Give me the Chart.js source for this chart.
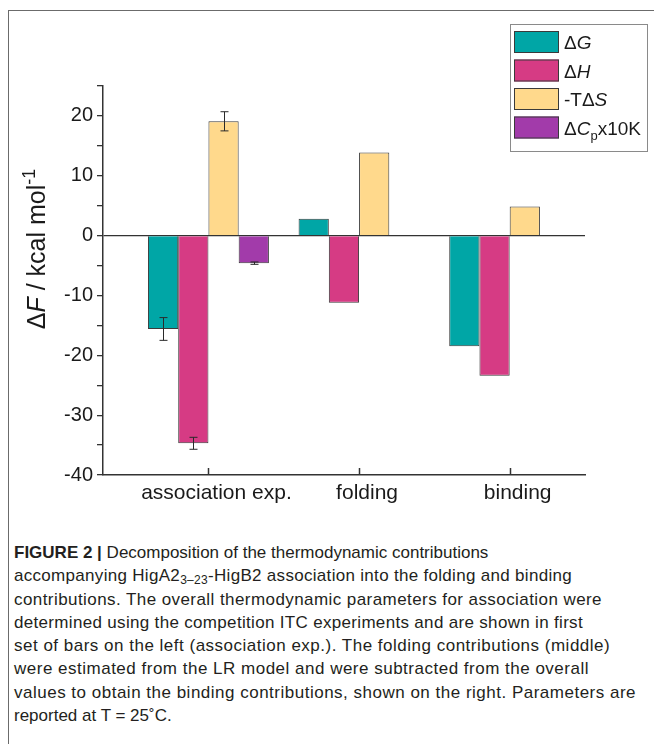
<!DOCTYPE html>
<html>
<head>
<meta charset="utf-8">
<script src="https://cdn.jsdelivr.net/npm/chart.js@4/dist/chart.umd.min.js"></script>
<style>
html,body{margin:0;padding:0;background:#fff;}
body{width:654px;height:744px;position:relative;overflow:hidden;font-family:"Liberation Sans",Arial,sans-serif;}
#frame{position:absolute;left:8px;top:10px;width:646px;height:734px;border-top:1.5px solid #6b6b6b;border-left:1.5px solid #6b6b6b;box-sizing:border-box;}
#wrap{position:absolute;left:0;top:0;width:654px;height:540px;}
#caption{position:absolute;left:14px;top:541px;width:640px;font-size:17px;line-height:23.3px;color:#231f20;}
.ln{white-space:nowrap;display:block;}
.ln span.t{display:inline-block;white-space:nowrap;}
sub{font-size:12px;line-height:0;vertical-align:-3px;}
</style>
</head>
<body>
<div id="frame"></div>
<div id="wrap"><canvas id="c" width="654" height="540"></canvas></div>
<div id="caption">
<div class="ln"><span class="t"><b>FIGURE 2 |</b> Decomposition of the thermodynamic contributions</span></div>
<div class="ln"><span class="t" data-end="572">accompanying HigA2<sub>3–23</sub>-HigB2 association into the folding and binding</span></div>
<div class="ln"><span class="t" data-end="602">contributions. The overall thermodynamic parameters for association were</span></div>
<div class="ln"><span class="t" data-end="583">determined using the competition ITC experiments and are shown in first</span></div>
<div class="ln"><span class="t" data-end="624">set of bars on the left (association exp.). The folding contributions (middle)</span></div>
<div class="ln"><span class="t" data-end="603">were estimated from the LR model and were subtracted from the overall</span></div>
<div class="ln"><span class="t" data-end="641">values to obtain the binding contributions, shown on the right. Parameters are</span></div>
<div class="ln"><span class="t">reported at T = 25˚C.</span></div>
</div>
<script>
// ---- data ----
const categories = ['association exp.', 'folding', 'binding'];
const categoryPositions = [1, 2, 3];
const seriesLabels = ['ΔG', 'ΔH', '-TΔS', 'ΔCpx10K'];
const dG   = [-15.6, 2.8, -18.5];
const dH   = [-34.7, -11.2, -23.4];
const mTdS = [19.1, 13.9, 4.85];
const dCp  = [-4.6, null, null];
const dGErr   = [1.9, null, null];
const dHErr   = [1.0, null, null];
const mTdSErr = [1.6, null, null];
const dCpErr  = [0.2, null, null];
const yMin = -40, yMax = 25, yStep = 5;
const xMin = 0.3, xMax = 3.5;

const colors = ['#00a6a6', '#d63b84', '#ffd98c', '#a23baa'];
const seriesValues = [dG, dH, mTdS, dCp];
const seriesErrors = [dGErr, dHErr, mTdSErr, dCpErr];

const FONT = '"Liberation Sans", Arial, sans-serif';

const datasets = seriesLabels.map((lab, i) => ({
  label: lab,
  data: categoryPositions.map((x, j) => ({x: x, y: seriesValues[i][j]})),
  errors: seriesErrors[i],
  backgroundColor: colors[i],
  borderColor: '#3a3a3a',
  borderWidth: 1,
  categoryPercentage: 0.803,
  barPercentage: 1
}));

function richParts(label) {
  const parts = [];
  for (let k = 0; k < label.length; k++) {
    const ch = label[k];
    if ('GHSC'.includes(ch)) parts.push({t: ch, style: 'italic'});
    else if (ch === 'p' && label[k - 1] === 'C') parts.push({t: ch, style: 'sub'});
    else parts.push({t: ch, style: 'normal'});
  }
  return parts;
}

function drawRich(ctx, parts, x, y, size) {
  let cx = x;
  for (const p of parts) {
    if (p.style === 'sub') {
      ctx.font = `${Math.round(size * 0.7)}px ${FONT}`;
      ctx.fillText(p.t, cx, y + size * 0.3);
    } else if (p.style === 'sup') {
      ctx.font = `${Math.round(size * 0.7)}px ${FONT}`;
      ctx.fillText(p.t, cx, y - size * 0.42);
    } else {
      ctx.font = `${p.style === 'italic' ? 'italic ' : ''}${size}px ${FONT}`;
      ctx.fillText(p.t, cx, y);
    }
    cx += ctx.measureText(p.t).width;
  }
  return cx - x;
}
function measureRich(ctx, parts, size) {
  let w = 0;
  for (const p of parts) {
    if (p.style === 'sub' || p.style === 'sup') ctx.font = `${Math.round(size * 0.7)}px ${FONT}`;
    else ctx.font = `${p.style === 'italic' ? 'italic ' : ''}${size}px ${FONT}`;
    w += ctx.measureText(p.t).width;
  }
  return w;
}

const errorBars = {
  id: 'errorBars',
  afterDatasetsDraw(chart) {
    const ctx = chart.ctx, ys = chart.scales.y;
    ctx.save();
    ctx.strokeStyle = '#2a2a2a';
    ctx.lineWidth = 1;
    chart.data.datasets.forEach((ds, i) => {
      const meta = chart.getDatasetMeta(i);
      ds.errors.forEach((e, j) => {
        const v = ds.data[j].y;
        if (e == null || v == null) return;
        const bar = meta.data[j];
        const x = Math.round(bar.x) + 0.5;
        const t = ys.getPixelForValue(v + e), b = ys.getPixelForValue(v - e);
        ctx.beginPath();
        ctx.moveTo(x, t); ctx.lineTo(x, b);
        ctx.moveTo(x - 4, t); ctx.lineTo(x + 4, t);
        ctx.moveTo(x - 4, b); ctx.lineTo(x + 4, b);
        ctx.stroke();
      });
    });
    ctx.restore();
  }
};

const extras = {
  id: 'extras',
  afterDraw(chart) {
    const ctx = chart.ctx, xs = chart.scales.x, area = chart.chartArea;
    ctx.save();
    // inward x ticks
    ctx.strokeStyle = '#333';
    ctx.lineWidth = 1.5;
    categoryPositions.forEach(v => {
      const x = Math.round(xs.getPixelForValue(v)) + 0.5;
      ctx.beginPath(); ctx.moveTo(x, area.bottom); ctx.lineTo(x, area.bottom - 7); ctx.stroke();
    });
    // y-axis title
    ctx.fillStyle = '#1a1a1a';
    ctx.textBaseline = 'alphabetic';
    const size = 25;
    const tParts = [{t:'Δ',style:'normal'},{t:'F',style:'italic'},{t:' / kcal mol',style:'normal'},{t:'-1',style:'sup'}];
    const w = measureRich(ctx, tParts, size);
    ctx.translate(45, 249);
    ctx.rotate(-Math.PI / 2);
    drawRich(ctx, tParts, -w / 2, 0, size);
    ctx.setTransform(1, 0, 0, 1, 0, 0);
    // legend
    const lx = 510.5, ly = 24.5, lw = 137, lh = 127;
    ctx.strokeStyle = '#8a8a8a';
    ctx.lineWidth = 1;
    ctx.strokeRect(lx, ly, lw, lh);
    chart.data.datasets.forEach((ds, i) => {
      const ry = 31 + i * 28.5;
      ctx.fillStyle = ds.backgroundColor;
      ctx.fillRect(514, ry, 45, 22);
      ctx.strokeStyle = '#3a3a3a';
      ctx.strokeRect(514.5, ry + 0.5, 44, 21);
      ctx.fillStyle = '#1a1a1a';
      drawRich(ctx, richParts(ds.label), 564, ry + 18, 19);
    });
    ctx.restore();
  }
};

new Chart(document.getElementById('c'), {
  type: 'bar',
  data: { datasets },
  options: {
    responsive: false,
    animation: false,
    devicePixelRatio: 1,
    layout: { padding: { left: 0, top: 86, right: 69, bottom: 0 } },
    plugins: { legend: { display: false }, tooltip: { enabled: false }, title: { display: false } },
    scales: {
      x: {
        type: 'linear',
        offset: false,
        min: xMin, max: xMax,
        afterBuildTicks: s => { s.ticks = categoryPositions.map(v => ({ value: v })); },
        afterFit: s => { s.height = 65; },
        grid: { offset: false, drawOnChartArea: false, drawTicks: false },
        border: { display: true, color: '#333', width: 1.5 },
        ticks: {
          padding: 6,
          labelOffset: 8,
          color: '#1a1a1a',
          font: { family: FONT, size: 21 },
          maxRotation: 0, autoSkip: false,
          callback: v => { const k = categoryPositions.indexOf(v); return k >= 0 ? categories[k] : ''; }
        }
      },
      y: {
        min: yMin, max: yMax,
        afterFit: s => { s.width = 103; },
        grid: {
          drawOnChartArea: true,
          color: c => (c.tick && c.tick.value === 0 ? '#333' : 'rgba(0,0,0,0)'),
          lineWidth: 1.3,
          tickColor: '#333',
          tickLength: 6,
          tickWidth: 1.3
        },
        border: { display: true, color: '#333', width: 1.5 },
        ticks: {
          stepSize: yStep,
          padding: 4,
          color: '#1a1a1a',
          font: { family: FONT, size: 20 },
          callback: v => (v % 10 === 0 ? String(v) : '')
        }
      }
    }
  },
  plugins: [errorBars, extras]
});

// fit caption lines to reference widths
document.querySelectorAll('#caption .t').forEach(el => {
  const end = el.getAttribute('data-end');
  if (!end) return;
  const target = Number(end) - 14;
  const natural = el.getBoundingClientRect().width;
  const n = el.textContent.length;
  el.style.letterSpacing = Math.max(-0.6, Math.min(0.5, (target - natural) / n)) + 'px';
});
</script>
</body>
</html>
